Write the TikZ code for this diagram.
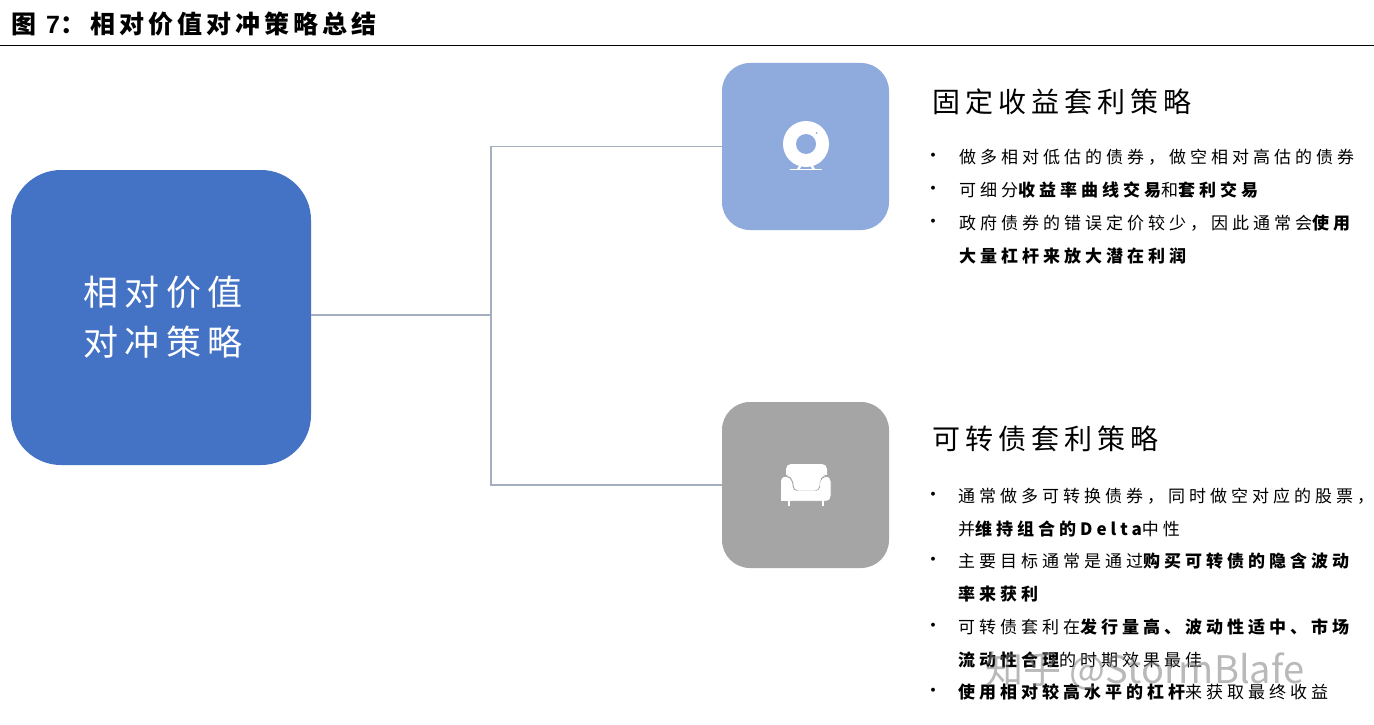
\documentclass[tikz,border=0pt]{standalone}
\usepackage{fontspec}
\setmainfont{Noto Sans CJK SC}
\newfontfamily\bodyfont[LetterSpace=23.5]{Noto Sans CJK SC}
\newfontfamily\titlefont[LetterSpace=18]{Noto Sans CJK SC}
\newfontfamily\headfont[LetterSpace=16]{Noto Sans CJK SC}
\newfontfamily\headlatin{Liberation Sans}
\newfontfamily\markfont{Noto Sans CJK SC}
\definecolor{bigblue}{HTML}{4472C4}
\definecolor{lightblue}{HTML}{8FAADC}
\definecolor{midgray}{HTML}{A5A5A5}
\definecolor{linkgray}{HTML}{A3AFBF}
\tikzset{
  x=1pt,y=-1pt,
  box/.style={draw=none,rounded corners=#1,inner sep=0pt,outer sep=0pt},
  link/.style={draw=linkgray,line width=1.5pt},
  bodytext/.style={anchor=base west,inner sep=0pt,font=\fontsize{17}{17}\selectfont\bodyfont,text=black},
  bullet/.style={anchor=center,inner sep=0pt,font=\fontsize{14}{14}\selectfont\bodyfont\bfseries,text=black},
  heading/.style={anchor=base west,inner sep=0pt,font=\fontsize{28}{28}\selectfont\titlefont,text=black},
  bigtext/.style={anchor=center,inner sep=0pt,font=\fontsize{35}{35}\selectfont\titlefont,text=white},
}
\newcommand{\B}[1]{{\bfseries #1}}
\begin{document}
\begin{tikzpicture}
\useasboundingbox (0,0) rectangle (1374,725);
\fill[white] (0,0) rectangle (1374,725);
% header
\node[anchor=base west,inner sep=0pt,font=\fontsize{25}{25}\selectfont\headfont\bfseries] (hd1) at (11,34) {图};
\node[anchor=base west,inner sep=0pt,font=\fontsize{25}{25}\selectfont\headlatin\bfseries] (hd2) at (46,34) {7};
\node[anchor=base west,inner sep=0pt,font=\fontsize{25}{25}\selectfont\headfont\bfseries] (hd3) at (60,34) {：};
\node[anchor=base west,inner sep=0pt,font=\fontsize{25}{25}\selectfont\headfont\bfseries] (hd4) at (90,34) {相对价值对冲策略总结};
\coordinate (ruleL) at (0,45.5);
\coordinate (ruleR) at (1374,45.5);
\draw[black,line width=1pt] (ruleL) -- (ruleR);
% boxes
\node[box=50pt,fill=bigblue,minimum width=300pt,minimum height=295pt] (big) at (161,317.5) {};
\node[box=28pt,fill=lightblue,minimum width=167pt,minimum height=167pt] (top) at (805.5,146.5) {};
\node[box=28pt,fill=midgray,minimum width=167pt,minimum height=166pt] (bot) at (805.5,485) {};
% connectors
\coordinate (junction) at (491,315);
\draw[link] ([yshift=2.5pt]big.east) -- (junction);
\draw[link] (junction) |- (top.west);
\draw[link] (junction) |- (bot.west);
% big text
\node[bigtext] (b1) at (163,292) {相对价值};
\node[bigtext] (b2) at (163,342) {对冲策略};
% webcam icon
\fill[white] (806,144) circle (23);
\fill[lightblue] (806,144) circle (10);
\fill[lightblue] (816.5,133) circle (1);
\fill[white] (800,164) -- (802,164) -- (800,169) -- (797,169) -- cycle;
\fill[white] (810,164) -- (812,164) -- (815,169) -- (812,169) -- cycle;
\draw[white,line width=1.5pt] (790,169.5) -- (822,169.5);
% sofa icon
\fill[white,rounded corners=5pt] (786,464) rectangle (827,492);
\filldraw[fill=white,draw=midgray,line width=1pt,rounded corners=5pt] (781,501) -- (781,476) -- (787,475.5) -- (793,480) -- (793,491) -- (820,491) -- (820,480) -- (825,475.5) -- (831,476) -- (831,501) -- cycle;
\fill[white] (781,482) rectangle (792,501);
\fill[white,rounded corners=3pt] (781,500.5) -- (781,478) -- (786,476.5) -- (792,481) -- (792,490.5) -- (820,490.5) -- (820,481) -- (825,476.5) -- (830,478) -- (830,500.5) -- cycle;
\fill[white] (788,500) rectangle (790,506);
\fill[white] (822,500) rectangle (824,506);
% top text
\node[heading] (t0) at (932,113) {固定收益套利策略};
\node[bullet] (tb1) at (933,157) {•};
\node[bodytext] (t1) at (959,163) {做多相对低估的债券，做空相对高估的债券};
\node[bullet] (tb2) at (933,190) {•};
\node[bodytext] (t2) at (959,196) {可细分\B{收益率曲线交易}和\B{套利交易}};
\node[bullet] (tb3) at (933,223) {•};
\node[bodytext] (t3) at (959,229) {政府债券的错误定价较少，因此通常会\B{使用}};
\node[bodytext] (t4) at (959,262) {\B{大量杠杆来放大潜在利润}};
% bottom text
\node[heading] (u0) at (932,449) {可转债套利策略};
\node[bullet] (ub1) at (933,496) {•};
\node[bodytext] (u1) at (958,502) {通常做多可转换债券，同时做空对应的股票，};
\node[bodytext] (u2) at (958,535) {并\B{维持组合的Delta}中性};
\node[bullet] (ub2) at (933,561) {•};
\node[bodytext] (u3) at (958,567) {主要目标通常是通过\B{购买可转债的隐含波动}};
\node[bodytext] (u4) at (958,600) {\B{率来获利}};
\node[bullet] (ub3) at (933,627) {•};
\node[bodytext] (u5) at (958,633) {可转债套利在\B{发行量高、波动性适中、市场}};
\node[bodytext] (u6) at (958,666) {\B{流动性合理}的时期效果最佳};
\node[bullet] (ub4) at (933,692) {•};
\node[bodytext] (u7) at (958,698) {\B{使用相对较高水平的杠杆}来获取最终收益};
% watermark
\node[anchor=base west,inner sep=0pt,text=gray,text opacity=0.55,font=\fontsize{38}{38}\selectfont\markfont] (wm) at (985,683) {知乎 @StormBlafe};
\end{tikzpicture}
\end{document}
